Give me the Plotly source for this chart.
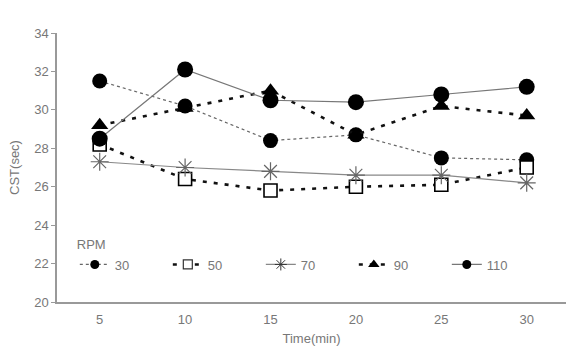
import plotly.graph_objects as go

time_min = [5, 10, 15, 20, 25, 30]
rpm_labels = ["30", "50", "70", "90", "110"]
cst_30 = [31.5, 30.2, 28.4, 28.7, 27.5, 27.4]
cst_50 = [28.2, 26.4, 25.8, 26.0, 26.1, 27.0]
cst_70 = [27.3, 27.0, 26.8, 26.6, 26.6, 26.2]
cst_90 = [29.2, 30.1, 31.0, 28.7, 30.2, 29.7]
cst_110 = [28.5, 32.1, 30.5, 30.4, 30.8, 31.2]
y_ticks = [20, 22, 24, 26, 28, 30, 32, 34]
x_boundaries = [7.5, 12.5, 17.5, 22.5, 27.5]
x_range = [2.5, 32.3]

series = [cst_30, cst_50, cst_70, cst_90, cst_110]
styles = [
    dict(line=dict(color="#666", width=1.2, dash="dot"),
         marker=dict(symbol="circle", size=15, color="black"),
         lmarker=dict(symbol="circle", size=9, color="black")),
    dict(line=dict(color="#111", width=2.6, dash="4px,7px"),
         marker=dict(symbol="square", size=13, color="white", line=dict(color="black", width=1.6)),
         lmarker=dict(symbol="square", size=9, color="white", line=dict(color="#333", width=1.2))),
    dict(line=dict(color="#888", width=1.2),
         marker=dict(symbol="asterisk-open", size=15, color="#666", line=dict(color="#666", width=1.2)),
         lmarker=dict(symbol="asterisk-open", size=10, color="#333", line=dict(color="#333", width=1))),
    dict(line=dict(color="#111", width=2.6, dash="4px,7px"),
         marker=dict(symbol="triangle-up", size=15, color="black"),
         lmarker=dict(symbol="triangle-up", size=10, color="black")),
    dict(line=dict(color="#777", width=1.2),
         marker=dict(symbol="circle", size=16, color="black"),
         lmarker=dict(symbol="circle", size=9, color="black")),
]

fig = go.Figure()
for name, ys, st in zip(rpm_labels, series, styles):
    fig.add_trace(go.Scatter(x=time_min, y=ys, mode="lines+markers", name=name,
                             line=st["line"], marker=st["marker"], showlegend=False))
for name, st in zip(rpm_labels, styles):
    fig.add_trace(go.Scatter(x=[None], y=[None], mode="lines+markers", name=name,
                             line=st["line"], marker=st["lmarker"], showlegend=True))

font = dict(family="Liberation Sans, Arial, sans-serif", size=13, color="#777")
fig.update_layout(
    width=566, height=346,
    margin=dict(l=57, r=0, t=33, b=44),
    paper_bgcolor="white", plot_bgcolor="white",
    font=font,
    legend=dict(orientation="h", x=0.035, y=0.258, xanchor="left", yanchor="top",
                title=dict(text="RPM", side="top", font=dict(size=13, color="#777")),
                entrywidthmode="pixels", entrywidth=48,
                bgcolor="rgba(0,0,0,0)", font=dict(size=13, color="#777")),
    xaxis=dict(range=x_range, tickvals=time_min, ticktext=[str(t) for t in time_min],
               ticks="outside", ticklen=5, tickcolor="rgba(0,0,0,0)",
               showgrid=False, zeroline=False,
               showline=True, linecolor="#999", linewidth=1.5,
               title=dict(text="Time(min)", standoff=8, font=dict(size=13, color="#777"))),
    xaxis2=dict(range=x_range, overlaying="x", anchor="y", side="bottom",
                tickvals=x_boundaries, showticklabels=False, ticks="inside", ticklen=4,
                tickcolor="#999", tickwidth=1, showgrid=False, zeroline=False, showline=False),
    yaxis=dict(range=[20, 34], tickvals=y_ticks, ticks="outside", ticklen=4, tickcolor="#999",
               showgrid=False, zeroline=False, showline=True, linecolor="#999", linewidth=1.5,
               title=dict(text="CST(sec)", standoff=12, font=dict(size=13, color="#777"))),
)

fig.write_html("out.html")
